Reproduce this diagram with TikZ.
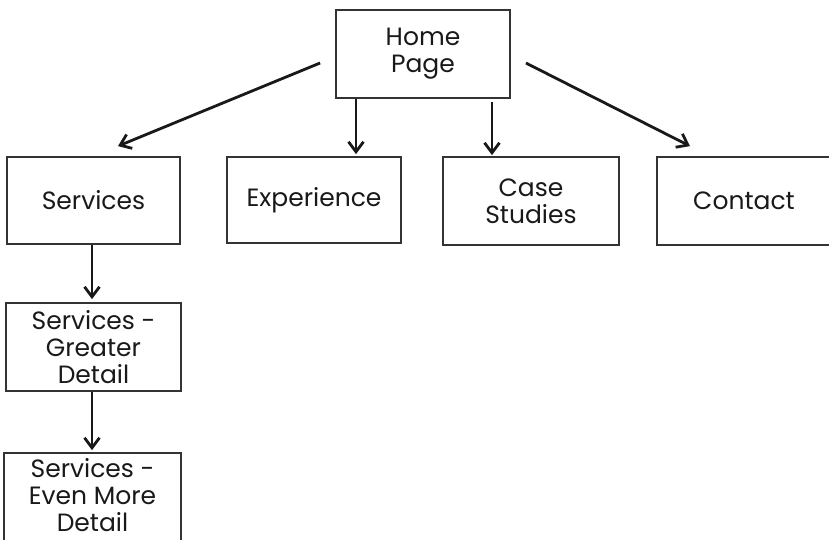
\documentclass[tikz,border=0pt]{standalone}
\usepackage{fontspec}
\setmainfont{Poppins}
\usetikzlibrary{arrows.meta}
\tikzset{
  boxline/.style={draw=black!80, line width=1.8pt},
  page/.style={boxline, rectangle, inner sep=0pt,
    align=center, font=\fontsize{25}{27}\selectfont, text=black!90},
  arr/.style={line width=2.8pt, black!90,
    -{Straight Barb[length=10pt,width=15pt,line width=2.8pt]}},
}
\begin{document}
\begin{tikzpicture}[x=1pt,y=-1pt]
  \useasboundingbox (0,0) rectangle (829,539);

  % top level
  \node[page, minimum width=174pt, minimum height=88pt] (home) at (423,54) {Home\\Page};

  % second level
  \node[page, minimum width=173pt, minimum height=87pt] (serv) at (93.5,200.5) {Services};
  \node[page, minimum width=174pt, minimum height=86pt] (exp)  at (314,200) {Experience};
  \node[page, minimum width=176pt, minimum height=88pt] (case) at (531,201) {Case\\Studies};
  \node[page, minimum width=174pt, minimum height=88pt] (cont) at (744,201) {Contact};

  % services detail chain
  \node[page, minimum width=175pt, minimum height=88pt] (greater) at (93.5,347) {Services -\\Greater\\Detail};
  % last page runs past the bottom edge: its outline is drawn below the text block
  \node[page, draw=none, minimum width=175pt, minimum height=83pt] (even) at (92.5,495.5) {Services -\\Even More\\Detail};
  \draw[boxline] (even.south west) -- (even.north west) -- (even.north east) -- ([yshift=-12pt]even.south east);
  \draw[boxline] (even.south west) -- ([yshift=-12pt]even.south west);

  % connectors
  \draw[arr] ([shift={(-15,9)}]home.west) -- ([shift={(24.5,-10)}]serv.north);
  \draw[arr] ([xshift=-67pt]home.south) -- ([xshift=42pt,yshift=2pt]exp.north);
  \draw[arr] ([xshift=69pt,yshift=-3pt]home.south) -- ([xshift=-39pt,yshift=1pt]case.north);
  \draw[arr] ([shift={(15,9)}]home.east) -- ([shift={(-54,-10)}]cont.north);
  \draw[arr] ([xshift=-1.5pt]serv.south) -- ([xshift=-1.5pt,yshift=3pt]greater.north);
  \draw[arr] ([xshift=-1.5pt]greater.south) -- ([xshift=-0.5pt,yshift=3pt]even.north);
\end{tikzpicture}
\end{document}
